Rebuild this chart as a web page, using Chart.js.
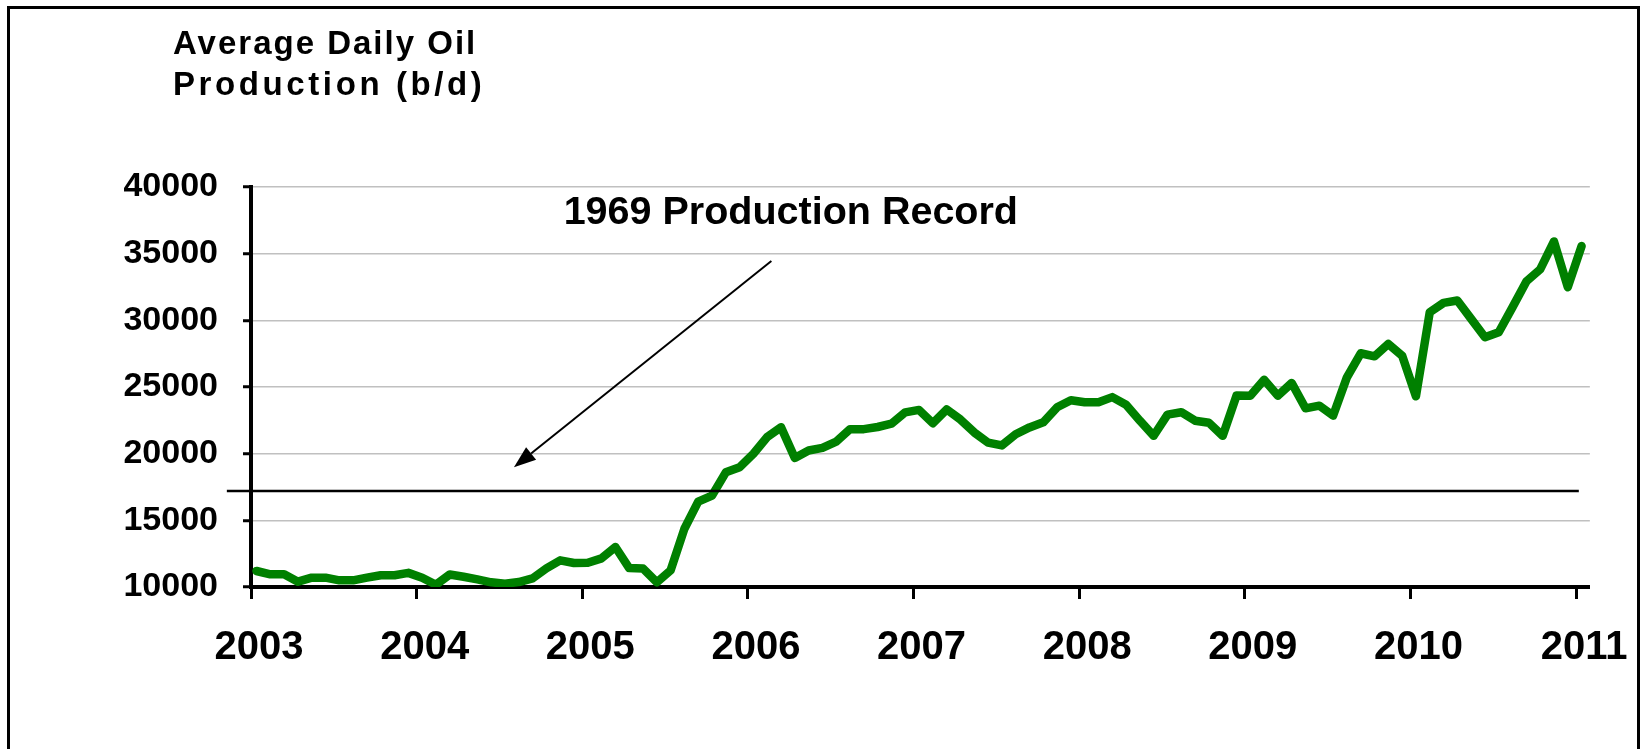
<!DOCTYPE html>
<html>
<head>
<meta charset="utf-8">
<title>Average Daily Oil Production</title>
<script src="https://cdn.jsdelivr.net/npm/chart.js@4.4.3/dist/chart.umd.min.js"></script>
<style>
  html, body { margin: 0; padding: 0; background: #fff; }
  #wrap { position: relative; width: 1645px; height: 749px; overflow: hidden; }
  #frame { position: absolute; left: 7px; top: 6px; width: 1633px; height: 780px; border: 3px solid #000; box-sizing: border-box; }
  canvas { position: absolute; left: 0; top: 0; }
</style>
</head>
<body>
<div id="wrap">
  <div id="frame"></div>
  <canvas id="c" width="1645" height="749"></canvas>
</div>
<script>
const FONT = "'Liberation Sans', Arial, Helvetica, sans-serif";
const GREEN = "#008000";
const GRID = "#c0c0c0";

const titleLines = ["Average Daily Oil", "Production (b/d)"];
const yearLabels = ["2003", "2004", "2005", "2006", "2007", "2008", "2009", "2010", "2011"];
const yTicks = [10000, 15000, 20000, 25000, 30000, 35000, 40000];

// monthly average, Jan 2003 .. Jan 2011 (b/d)
const production = [
  11200, 10950, 10950, 10400, 10700, 10700, 10500, 10500, 10700, 10880, 10880, 11060,
  10700, 10170, 10940, 10770, 10570, 10350, 10250, 10370, 10650, 11400, 12000, 11800,
  11820, 12150, 13000, 11420, 11380, 10350, 11250, 14370, 16400, 16850, 18600, 18980,
  20000, 21250, 21980, 19680, 20240, 20440, 20900, 21840, 21840, 22000, 22250, 23100,
  23280, 22280, 23320, 22560, 21590, 20830, 20620, 21460, 21970, 22350, 23480, 24010,
  23860, 23860, 24240, 23670, 22470, 21340, 22930, 23110, 22470, 22320, 21340, 24360,
  24350, 25550, 24350, 25300, 23400, 23600, 22850, 25730, 27530, 27300, 28230, 27350,
  24300, 30610, 31310, 31490, 30110, 28730, 29110, 30990, 32920, 33820, 35920, 32490,
  35570
];
const POINT_OFFSET = 0.4; // months after the year tick

const recordLevel = 17200;
const recordSpan = [-1.75, 96.2]; // months from Jan 2003
const recordLabel = "1969 Production Record";
const labelPos = { x: 22.65, y: 37200 };
const arrowFrom = { x: 37.7, y: 34450 };
const arrowTo = { x: 19.05, y: 18980 };

const overlay = {
  id: "overlay",
  afterDraw(chart) {
    const { ctx, scales: { x, y } } = chart;
    ctx.save();
    ctx.fillStyle = "#000";
    ctx.textAlign = "left";
    ctx.textBaseline = "alphabetic";

    // axis title, top left
    ctx.font = `bold 33px ${FONT}`;
    ctx.letterSpacing = "2px";
    ctx.fillText(titleLines[0], 173, 54);
    ctx.letterSpacing = "3.6px";
    ctx.fillText(titleLines[1], 173, 95);
    ctx.letterSpacing = "0px";

    // record annotation
    ctx.font = `bold 39.5px ${FONT}`;
    ctx.fillText(recordLabel, x.getPixelForValue(labelPos.x), y.getPixelForValue(labelPos.y));

    const x0 = x.getPixelForValue(arrowFrom.x), y0 = y.getPixelForValue(arrowFrom.y);
    const x1 = x.getPixelForValue(arrowTo.x), y1 = y.getPixelForValue(arrowTo.y);
    const a = Math.atan2(y1 - y0, x1 - x0);
    const head = 22, half = 8;
    const bx = x1 - head * Math.cos(a), by = y1 - head * Math.sin(a);
    ctx.strokeStyle = "#000";
    ctx.lineWidth = 2;
    ctx.beginPath();
    ctx.moveTo(x0, y0);
    ctx.lineTo(bx, by);
    ctx.stroke();
    ctx.beginPath();
    ctx.moveTo(x1, y1);
    ctx.lineTo(bx + half * Math.sin(a), by - half * Math.cos(a));
    ctx.lineTo(bx - half * Math.sin(a), by + half * Math.cos(a));
    ctx.closePath();
    ctx.fill();
    ctx.restore();
  }
};

new Chart(document.getElementById("c"), {
  type: "line",
  data: {
    datasets: [
      {
        label: "Average daily oil production (b/d)",
        data: production.map((v, i) => ({ x: i + POINT_OFFSET, y: v })),
        borderColor: GREEN,
        borderWidth: 8.5,
        borderJoinStyle: "round",
        borderCapStyle: "round",
        pointRadius: 0,
        tension: 0,
        order: 1
      },
      {
        label: "1969 production record",
        data: recordSpan.map((m) => ({ x: m, y: recordLevel })),
        borderColor: "#000",
        borderWidth: 2.5,
        pointRadius: 0,
        clip: false,
        order: 0
      }
    ]
  },
  options: {
    responsive: false,
    animation: false,
    layout: { padding: { top: 187, right: 54, bottom: 62, left: 0 } },
    plugins: { legend: { display: false }, tooltip: { enabled: false }, title: { display: false } },
    scales: {
      x: {
        type: "linear",
        min: 0,
        max: 97,
        afterBuildTicks: (s) => { s.ticks = yearLabels.map((_, i) => ({ value: i * 12 })); },
        afterFit: (s) => { s.height = 100; },
        ticks: {
          callback: (v) => yearLabels[Math.round(v / 12)],
          font: { family: FONT, size: 40, weight: "bold" },
          color: "#000",
          padding: 25,
          labelOffset: 8,
          maxRotation: 0,
          autoSkip: false
        },
        grid: { drawOnChartArea: false, drawTicks: true, tickLength: 12, tickWidth: 3, tickColor: "#000" },
        border: { display: true, color: "#000", width: 4 }
      },
      y: {
        min: 10000,
        max: 40000,
        afterBuildTicks: (s) => { s.ticks = yTicks.map((v) => ({ value: v })); },
        afterFit: (s) => { s.width = 251; },
        ticks: {
          callback: (v) => String(v),
          font: { family: FONT, size: 34, weight: "bold" },
          color: "#000",
          padding: 25
        },
        grid: {
          color: (c) => (c.tick && c.tick.value === 10000 ? "rgba(0,0,0,0)" : GRID),
          lineWidth: 1.5,
          tickLength: 8,
          tickWidth: 3,
          tickColor: "#000"
        },
        border: { display: true, color: "#000", width: 4 }
      }
    }
  },
  plugins: [overlay]
});
</script>
</body>
</html>
